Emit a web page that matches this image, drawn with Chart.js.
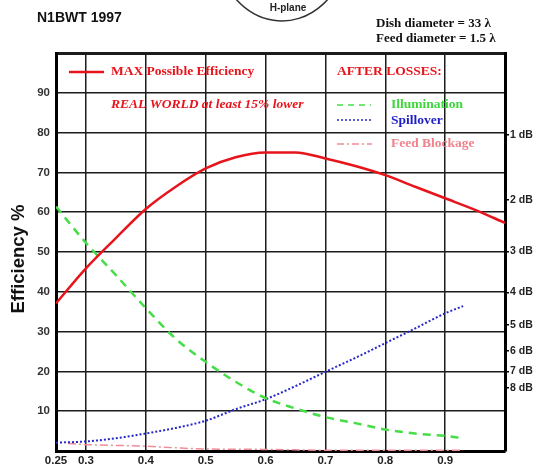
<!DOCTYPE html>
<html>
<head>
<meta charset="utf-8">
<style>
html,body{margin:0;padding:0;background:#fff;}
#c{display:block;}
</style>
<script src="https://cdn.jsdelivr.net/npm/chart.js@4/dist/chart.umd.min.js"></script>
</head>
<body>
<canvas id="c" width="536" height="466"></canvas>
<script>
// ---- data ----
const xMain = [0.25,0.3,0.35,0.4,0.45,0.5,0.55,0.6,0.65,0.7,0.75,0.8,0.85,0.9,0.95,1.0];
const maxEfficiency = [37.1,45.9,53.5,60.8,66.4,71.0,73.8,75.0,75.0,73.5,71.6,69.3,66.4,63.5,60.6,57.3];
const xLoss = [0.25,0.3,0.35,0.4,0.45,0.5,0.55,0.6,0.65,0.7,0.75,0.8,0.85,0.9,0.93];
const illumination = [61.4,52.3,44.2,35.9,28.2,22.4,17.4,13.3,10.7,8.5,7.0,5.4,4.4,3.8,3.2];
const spillover = [2.1,2.4,3.2,4.4,5.8,7.6,10.5,13.0,16.3,19.9,23.4,27.1,30.8,34.6,36.4];
const xFeed = [0.27,0.3,0.35,0.4,0.45,0.5,0.6,0.7,0.8,0.93];
const feedBlockage = [1.9,1.6,1.4,1.2,0.8,0.5,0.4,0.2,0.2,0.2];
const xTicks = [0.25,0.3,0.4,0.5,0.6,0.7,0.8,0.9,1.0];
const xTickLabels = ['0.25','0.3','0.4','0.5','0.6','0.7','0.8','0.9',''];
const yTicks = [0,10,20,30,40,50,60,70,80,90,100];
const yTickLabels = ['','10','20','30','40','50','60','70','80','90',''];
const dbTicks = [79.43,63.10,50.12,39.81,31.62,25.12,19.95,15.85];
const dbTickLabels = ['1 dB','2 dB','3 dB','4 dB','5 dB','6 dB','7 dB','8 dB'];

const RED = 'rgb(232,20,28)';
const GREEN = 'rgb(70,222,70)';
const BLUE = 'rgb(40,40,200)';
const PINK = 'rgb(240,140,150)';
const GRID = '#1c1c1c';

function pts(xs, ys){ return xs.map((x,i)=>({x:x,y:ys[i]})); }

const decor = {
  id:'decor',
  afterDraw(chart){
    const ctx = chart.ctx;
    ctx.save();
    // header
    ctx.fillStyle = '#111';
    ctx.font = 'bold 14px "Liberation Sans", Arial, sans-serif';
    ctx.textBaseline = 'middle';
    ctx.textAlign = 'left';
    ctx.fillText('N1BWT 1997', 37, 18);
    // H-plane arc
    ctx.strokeStyle = '#333';
    ctx.lineWidth = 1.5;
    ctx.beginPath();
    ctx.ellipse(282, -62, 68, 83, 0, 0.04*Math.PI, 0.96*Math.PI);
    ctx.stroke();
    ctx.font = 'bold 10px "Liberation Sans", Arial, sans-serif';
    ctx.textAlign = 'center';
    ctx.fillStyle = '#222';
    ctx.fillText('H-plane', 288, 8);
    // dish text
    ctx.textAlign = 'left';
    ctx.fillStyle = '#111';
    ctx.font = 'bold 13px "Liberation Serif", "Times New Roman", serif';
    ctx.fillText('Dish diameter = 33 \u03bb', 376, 24);
    ctx.fillText('Feed diameter = 1.5 \u03bb', 376, 39);
    // y title
    ctx.save();
    ctx.translate(19, 259);
    ctx.rotate(-Math.PI/2);
    ctx.textAlign = 'center';
    ctx.font = 'bold 18.5px "Liberation Sans", Arial, sans-serif';
    ctx.fillStyle = '#111';
    ctx.fillText('Efficiency %', 0, 0);
    ctx.restore();
    // legend
    const serif = '"Liberation Serif", "Times New Roman", serif';
    function sample(x1,x2,y,color,w,dash){
      ctx.beginPath();
      ctx.setLineDash(dash);
      ctx.strokeStyle = color; ctx.lineWidth = w;
      ctx.moveTo(x1,y); ctx.lineTo(x2,y); ctx.stroke();
      ctx.setLineDash([]);
    }
    sample(69,104,72,RED,2.5,[]);
    ctx.font = 'bold 13.5px ' + serif;
    ctx.fillStyle = RED;
    ctx.fillText('MAX Possible Efficiency', 111, 72);
    ctx.fillText('AFTER LOSSES:', 337, 72);
    ctx.font = 'italic bold 13.5px ' + serif;
    ctx.fillText('REAL WORLD at least 15% lower', 111, 105);
    sample(337,371,105,GREEN,1.5,[6,5]);
    sample(337,372,120,BLUE,1.5,[2,2]);
    sample(337,372,144,PINK,1.5,[7,3,2,3]);
    ctx.font = 'bold 13.5px ' + serif;
    ctx.fillStyle = 'rgb(60,215,60)';
    ctx.fillText('Illumination', 391, 105);
    ctx.fillStyle = 'rgb(30,30,200)';
    ctx.fillText('Spillover', 391, 121);
    ctx.fillStyle = 'rgb(240,130,140)';
    ctx.fillText('Feed Blockage', 391, 144);
    ctx.restore();
  }
};

const sansTick = {family:'"Liberation Sans", Arial, sans-serif', size:11.5, weight:'bold'};

new Chart(document.getElementById('c'), {
  type:'line',
  data:{
    datasets:[
      {label:'MAX Possible Efficiency', data:pts(xMain,maxEfficiency), borderColor:RED, borderWidth:2.5, cubicInterpolationMode:'monotone', pointRadius:0, fill:false},
      {label:'Illumination', data:pts(xLoss,illumination), borderColor:GREEN, borderWidth:2.5, borderDash:[8,6], cubicInterpolationMode:'monotone', pointRadius:0, fill:false},
      {label:'Spillover', data:pts(xLoss,spillover), borderColor:BLUE, borderWidth:2, borderDash:[2,2], cubicInterpolationMode:'monotone', pointRadius:0, fill:false},
      {label:'Feed Blockage', data:pts(xFeed,feedBlockage), borderColor:PINK, borderWidth:1.5, borderDash:[8,3,2,3], cubicInterpolationMode:'monotone', pointRadius:0, fill:false}
    ]
  },
  options:{
    responsive:false,
    animation:false,
    devicePixelRatio:1,
    layout:{padding:{top:53,left:0,right:0,bottom:0}},
    plugins:{legend:{display:false}, tooltip:{enabled:false}},
    scales:{
      x:{
        type:'linear', min:0.25, max:1.0,
        afterBuildTicks(s){ s.ticks = xTicks.map(v=>({value:v})); },
        afterFit(s){ s.height = 15; },
        ticks:{autoSkip:false, maxRotation:0, padding:3, color:'#222', font:sansTick,
          callback:(v,i)=>xTickLabels[i]},
        grid:{color:GRID, lineWidth:1.5, drawTicks:false},
        border:{color:'#000', width:3}
      },
      y:{
        position:'left', min:0, max:100,
        afterBuildTicks(s){ s.ticks = yTicks.map(v=>({value:v})); },
        afterFit(s){ s.width = 56; },
        ticks:{autoSkip:false, padding:6, color:'#333', font:sansTick,
          callback:(v,i)=>yTickLabels[i]},
        grid:{color:GRID, lineWidth:(c)=> (c.tick && c.tick.value===100) ? 3 : 1.5, drawTicks:false},
        border:{color:'#000', width:3}
      },
      y2:{
        position:'right', min:0, max:100,
        afterBuildTicks(s){ s.ticks = dbTicks.map(v=>({value:v})); },
        afterFit(s){ s.width = 31; },
        ticks:{autoSkip:false, padding:1, color:'#222', font:{family:'"Liberation Sans", Arial, sans-serif', size:10.5, weight:'bold'},
          callback:(v,i)=>dbTickLabels[i]},
        grid:{color:'#000', drawOnChartArea:false, drawTicks:true, tickLength:4, lineWidth:1.5},
        border:{color:'#000', width:3}
      }
    }
  },
  plugins:[decor]
});
</script>
</body>
</html>
